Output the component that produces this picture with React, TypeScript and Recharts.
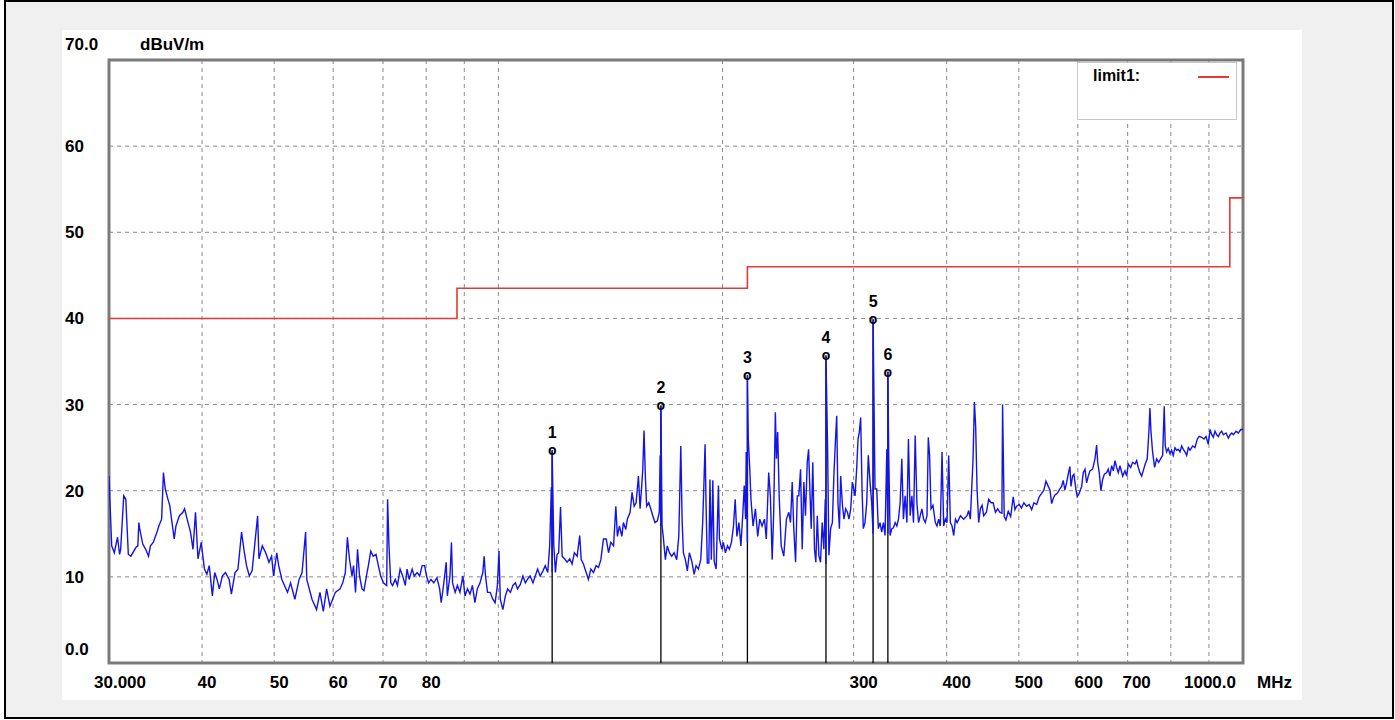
import {
  ComposedChart,
  Line,
  Scatter,
  XAxis,
  YAxis,
  CartesianGrid,
  ReferenceArea,
} from 'recharts'

// sweep readings [MHz, dBuV/m], split by frequency band
const SWEEP_30_61: [number, number][] = [
  [30, 21.7], [30.07, 19.4], [30.25, 13.6], [30.5, 12.8], [30.8, 14.6], [31.0, 12.6], [31.1, 13.2],
  [31.4, 19.4], [31.6, 19.0], [31.85, 12.6], [32.1, 12.4], [32.6, 13.4], [32.8, 13.6], [32.9, 16.3],
  [33.0, 15.5], [33.3, 13.8], [33.6, 13.2], [33.9, 12.4], [34.1, 13.6], [34.4, 14.0], [34.8, 15.2],
  [35.0, 15.9], [35.3, 16.7], [35.5, 22.1], [35.7, 20.2], [36.0, 19.0], [36.2, 18.3], [36.4, 16.7],
  [36.7, 14.4], [36.9, 15.9], [37.3, 17.1], [37.7, 17.5], [37.9, 17.9], [38.2, 16.7], [38.6, 15.2],
  [38.9, 13.2], [39.2, 17.5], [39.5, 12.1], [39.9, 14.0], [40.3, 10.9], [40.6, 10.3], [40.9, 11.3],
  [41.3, 7.8], [41.6, 10.5], [41.9, 9.7], [42.2, 8.6], [42.6, 10.1], [43.0, 10.5], [43.5, 9.7],
  [43.8, 8.0], [44.3, 10.5], [44.7, 10.9], [45.2, 15.2], [45.6, 12.8], [45.9, 11.3], [46.3, 10.1],
  [46.7, 10.7], [47.5, 17.1], [47.7, 12.1], [48.2, 13.6], [48.7, 12.8], [49.2, 11.7], [49.6, 12.4],
  [49.9, 10.1], [50.4, 12.8], [50.7, 11.3], [51.2, 9.7], [52.1, 8.2], [52.6, 9.3], [53.3, 7.4],
  [54.0, 9.7], [54.5, 10.5], [55.1, 15.2], [55.3, 9.7], [56.2, 7.4], [57.0, 6.2], [57.6, 8.2],
  [58.2, 6.0], [58.8, 8.6], [59.4, 6.6], [60.4, 8.2],
]

const SWEEP_61_129: [number, number][] = [
  [61.3, 8.6], [61.8, 9.3], [62.3, 10.5], [62.7, 14.6], [63.1, 12.1], [63.6, 10.1], [63.9, 11.3],
  [64.3, 8.2], [64.7, 13.2], [65.1, 10.1], [65.6, 8.6], [66.0, 8.4], [66.5, 10.1], [66.9, 11.3],
  [67.4, 13.0], [67.9, 12.4], [68.5, 12.6], [69.0, 11.3], [69.5, 10.1], [70.1, 9.3], [70.8, 9.0],
  [71.0, 19.0], [71.3, 13.6], [71.7, 9.3], [72.1, 9.0], [72.7, 9.7], [73.2, 9.0], [73.8, 10.9],
  [74.4, 10.1], [75.0, 9.0], [75.4, 10.9], [75.9, 9.7], [76.6, 10.9], [77.1, 10.1], [77.8, 10.5],
  [78.4, 10.1], [79.0, 11.3], [79.6, 11.3], [80.1, 10.1], [80.6, 9.3], [81.2, 9.7], [81.9, 9.3],
  [82.7, 9.9], [83.4, 8.6], [83.8, 7.0], [84.4, 9.0], [85.1, 11.7], [85.4, 7.8], [86.1, 10.1],
  [86.5, 14.0], [86.8, 9.3], [87.5, 8.2], [88.1, 9.0], [88.8, 8.2], [89.6, 10.1], [90.2, 7.8],
  [90.9, 8.6], [91.6, 8.0], [92.3, 9.0], [93.0, 7.0], [93.7, 8.6], [94.5, 9.3], [95.3, 10.5],
  [95.7, 12.4], [96.1, 10.1], [96.7, 8.2], [97.5, 8.2], [98.3, 7.4], [99.0, 7.0], [99.7, 9.0],
  [100.2, 13.0], [100.6, 7.4], [101.4, 6.2], [102.2, 7.8], [102.9, 8.6], [103.8, 8.2], [104.6, 9.0],
  [105.4, 9.3], [106.1, 8.6], [107.0, 9.1], [107.9, 10.1], [108.7, 9.3], [109.4, 9.7], [110.3, 10.1],
  [111.3, 9.3], [112.1, 10.1], [112.9, 10.9], [113.8, 10.1], [114.8, 10.7], [115.6, 11.3], [116.5, 10.5],
  [117.2, 13.6], [117.8, 20.4], [118.1, 10.5], [118.1, 24.7], [118.7, 13.6], [119.3, 10.5], [119.9, 12.6],
  [120.5, 12.8], [121.2, 18.1], [121.8, 12.4], [122.7, 12.1], [123.7, 11.7], [124.7, 12.1], [125.6, 11.5],
  [126.5, 12.8], [127.6, 12.4], [128.6, 14.8],
]

const SWEEP_129_246: [number, number][] = [
  [129.2, 12.0], [130.1, 11.5], [131.2, 10.5], [132.1, 9.7], [133.1, 10.9], [134.2, 10.5], [135.3, 11.3],
  [136.3, 11.1], [137.3, 12.0], [138.4, 14.4], [139.6, 14.4], [140.6, 12.8], [141.6, 14.0], [142.8, 13.6],
  [143.8, 18.2], [144.5, 14.7], [145.4, 15.9], [146.5, 14.7], [147.2, 16.3], [148.3, 15.5], [149.0, 16.7],
  [150.3, 17.5], [151.2, 19.8], [152.2, 18.2], [153.1, 18.6], [154.2, 21.7], [155.0, 17.9], [155.8, 20.6],
  [156.3, 22.5], [156.9, 27.0], [157.6, 21.3], [158.2, 18.2], [159.2, 18.6], [160.2, 17.9], [161.2, 17.1],
  [162.3, 16.3], [163.5, 16.5], [164.5, 17.5], [164.9, 24.1], [165.3, 15.9], [165.3, 29.9], [165.9, 15.9],
  [166.5, 14.7], [167.6, 12.0], [168.6, 13.6], [169.7, 12.8], [170.9, 12.4], [172.2, 12.8], [173.6, 12.0],
  [174.7, 14.7], [175.8, 25.2], [176.5, 16.7], [177.2, 12.8], [178.3, 12.0], [179.4, 10.7], [180.5, 12.8],
  [181.9, 11.8], [183.2, 10.3], [184.3, 11.3], [185.6, 10.9], [187.0, 12.0], [188.1, 16.3], [188.9, 21.3],
  [189.5, 25.4], [190.1, 18.2], [190.8, 11.6], [191.7, 11.6], [192.4, 21.3], [193.2, 12.0], [194.1, 21.2],
  [194.9, 11.8], [196.1, 10.9], [197.5, 20.6], [198.1, 14.4], [199.6, 13.2], [200.5, 14.0], [201.8, 12.8],
  [203.1, 13.6], [204.3, 13.2], [205.6, 14.0], [206.9, 15.9], [208.0, 19.0], [209.1, 14.7], [210.4, 16.3],
  [211.7, 13.6], [213.0, 17.5], [213.9, 20.6], [214.8, 16.7], [215.2, 24.5], [216.0, 14.0], [216.0, 33.4],
  [216.6, 26.0], [217.5, 22.9], [218.4, 19.0], [219.8, 15.9], [221.4, 17.9], [223.0, 14.7], [224.4, 16.7],
  [226.0, 15.9], [227.7, 16.7], [229.0, 14.4], [230.7, 22.1], [231.9, 19.4], [233.2, 12.0], [234.3, 17.5],
  [235.5, 29.1], [236.3, 23.7], [237.2, 26.8], [238.3, 19.4], [239.8, 13.6], [241.7, 12.4], [243.7, 16.7],
  [245.5, 17.5],
]

const SWEEP_246_472: [number, number][] = [
  [246.8, 16.3], [248.1, 21.0], [249.3, 15.6], [250.7, 11.7], [252.0, 19.4], [253.2, 19.4], [254.6, 22.5],
  [255.9, 13.2], [257.2, 21.0], [258.5, 17.1], [259.9, 23.3], [261.0, 24.8], [262.0, 20.2], [263.1, 15.6],
  [264.4, 23.3], [265.8, 13.2], [266.9, 11.7], [268.1, 17.1], [269.4, 12.5], [270.8, 11.7], [272.2, 16.3],
  [273.6, 13.2], [274.8, 19.0], [275.4, 11.5], [275.4, 35.7], [276.8, 24.8], [277.9, 12.5], [279.4, 15.6],
  [280.9, 16.3], [282.2, 21.7], [283.5, 25.6], [284.7, 28.7], [285.8, 18.6], [287.1, 15.6], [288.2, 21.7],
  [289.8, 18.3], [291.2, 16.7], [292.7, 17.9], [294.3, 17.5], [295.7, 16.7], [297.3, 17.9], [298.8, 21.0],
  [301.3, 19.4], [302.8, 22.5], [304.1, 26.0], [305.3, 26.8], [306.6, 28.5], [307.9, 20.2], [309.1, 15.6],
  [310.7, 16.3], [312.4, 18.6], [313.9, 24.1], [315.6, 21.0], [317.2, 18.6], [318.6, 15.0], [318.6, 39.9],
  [319.5, 30.3], [320.5, 20.2], [322.2, 20.2], [323.8, 15.6], [325.5, 16.3], [327.2, 15.2], [328.9, 16.3],
  [330.6, 14.8], [332.4, 24.8], [333.5, 15.0], [333.5, 33.8], [334.4, 24.1], [335.8, 14.8], [337.6, 15.6],
  [339.3, 15.7], [341.1, 16.3], [342.9, 15.9], [344.6, 16.7], [346.4, 18.6], [348.2, 23.7], [349.9, 16.7],
  [351.8, 19.4], [353.7, 16.3], [355.4, 26.0], [357.3, 17.1], [359.2, 19.4], [361.0, 16.3], [362.9, 26.4],
  [364.8, 18.6], [366.7, 16.3], [368.6, 17.1], [370.5, 17.9], [372.4, 16.7], [374.4, 16.3], [376.4, 17.1],
  [377.9, 26.2], [379.4, 24.1], [381.1, 17.9], [383.4, 18.3], [386.2, 16.3], [388.2, 15.9], [390.2, 16.7],
  [392.2, 15.9], [394.3, 24.5], [396.3, 15.9], [398.4, 16.7], [400.4, 16.3], [402.5, 24.1], [404.6, 16.3],
  [406.7, 15.9], [408.8, 14.8], [411.0, 16.7], [413.2, 16.3], [417.4, 17.1], [421.6, 16.7], [426.0, 17.1],
  [428.2, 17.7], [430.4, 16.7], [434.0, 23.7], [435.8, 30.3], [437.5, 27.5], [439.4, 20.2], [441.6, 16.3],
  [443.9, 17.9], [446.3, 18.3], [448.5, 17.1], [452.3, 17.5], [455.5, 19.0], [458.9, 18.6], [461.8, 18.6],
  [465.1, 17.5], [468.4, 17.9], [471.4, 17.5],
]

const SWEEP_472_1000: [number, number][] = [
  [474.5, 17.4], [475.5, 30.0], [476.4, 25.0], [477.9, 17.0], [480.4, 16.6], [483.9, 17.6], [487.5, 17.0],
  [491.4, 19.3], [494.0, 17.8], [496.6, 18.2], [500.6, 18.4], [504.2, 18.0], [507.8, 18.6], [512.1, 18.2],
  [516.2, 18.4], [520.2, 17.8], [523.9, 18.6], [528.3, 18.4], [532.5, 19.3], [536.5, 19.7], [540.3, 20.1],
  [543.7, 21.1], [547.6, 20.5], [550.5, 20.1], [553.4, 18.5], [556.1, 19.1], [559.1, 19.5], [563.1, 19.7],
  [566.6, 20.1], [570.7, 20.5], [573.5, 21.2], [576.5, 20.1], [579.6, 20.9], [582.4, 21.9], [585.5, 22.8],
  [587.4, 20.5], [590.4, 21.7], [592.9, 21.9], [596.6, 20.1], [599.0, 19.3], [602.7, 19.7], [607.2, 20.5],
  [610.2, 22.1], [613.5, 22.5], [616.6, 20.9], [619.7, 21.7], [623.0, 22.3], [628.2, 22.5], [632.7, 23.7],
  [636.0, 25.3], [638.0, 23.3], [641.1, 22.1], [644.5, 20.0], [647.9, 21.3], [651.2, 21.9], [656.0, 22.1],
  [659.2, 22.5], [662.7, 21.7], [666.2, 22.9], [669.6, 22.3], [673.1, 23.5], [676.6, 22.7], [680.0, 22.1],
  [683.6, 22.9], [689.3, 21.7], [694.2, 22.3], [697.9, 21.7], [701.3, 23.1], [706.5, 22.7], [710.9, 23.3],
  [716.0, 23.1], [719.8, 23.5], [723.4, 22.7], [727.1, 22.1], [731.0, 21.7], [734.5, 22.3], [739.1, 23.1],
  [743.7, 23.7], [747.6, 26.9], [749.9, 29.6], [752.3, 26.9], [756.1, 24.5], [760.8, 22.7], [765.6, 23.7],
  [770.3, 23.3], [775.1, 23.7], [780.0, 24.1], [783.8, 29.8], [786.3, 25.2], [789.6, 24.5], [793.6, 24.9],
  [797.8, 24.3], [802.0, 24.7], [805.9, 24.1], [810.2, 25.0], [814.5, 24.7], [818.6, 24.8], [823.0, 24.5],
  [827.3, 25.2], [831.4, 24.8], [835.8, 24.5], [840.2, 24.1], [844.5, 25.0], [849.0, 24.7], [855.9, 25.2],
  [862.0, 25.0], [868.2, 26.0], [873.6, 26.3], [880.1, 26.2], [886.4, 26.0], [891.9, 26.3], [898.3, 25.4],
  [903.1, 27.1], [907.9, 26.5], [912.3, 26.2], [917.2, 26.9], [922.0, 26.5], [926.7, 26.3], [931.4, 26.7],
  [936.4, 26.9], [941.1, 26.5], [949.0, 26.7], [955.8, 26.1], [960.9, 26.5], [965.8, 26.7], [970.7, 26.5],
  [978.8, 26.9], [985.8, 26.7], [993.1, 27.1], [1000, 27.1],
]

// limit1 step line
const LIMIT_MHZ = [30, 88, 88, 216, 216, 960, 960, 1000]
const LIMIT_DB = [40, 40, 43.5, 43.5, 46, 46, 54, 54]

// markers 1..6
const MARKER_MHZ = [118.1, 165.3, 216.0, 275.4, 318.6, 333.5]
const MARKER_DB = [24.7, 29.9, 33.4, 35.7, 39.9, 33.8]

const GRID_MHZ = [30, 40, 50, 60, 70, 80, 90, 100, 200, 300, 400, 500, 600, 700, 800, 900, 1000]
const Y_TICKS = [0, 10, 20, 30, 40, 50, 60, 70]
const X_LABELS: Record<number, string> = {
  30: '30.000', 40: '40', 50: '50', 60: '60', 70: '70', 80: '80',
  300: '300', 400: '400', 500: '500', 600: '600', 700: '700', 1000: '1000.0',
}
const X_LABEL_DX: Record<number, number> = { 30: 11, 300: 10, 400: 10, 500: 10, 600: 11, 700: 9, 1000: -33 }

const FONT = '"Liberation Sans", Arial, sans-serif'

const trace = [...SWEEP_30_61, ...SWEEP_61_129, ...SWEEP_129_246, ...SWEEP_246_472, ...SWEEP_472_1000].map(
  ([f, v]) => ({ f, v }),
)
const limit = LIMIT_MHZ.map((f, i) => ({ f, v: LIMIT_DB[i] }))
const markers = MARKER_MHZ.map((f, i) => ({ f, v: MARKER_DB[i], n: i + 1 }))

function XTick({ x, y, payload }: any) {
  const label = X_LABELS[payload.value]
  if (!label) return null
  const dx = X_LABEL_DX[payload.value] ?? 5
  return (
    <g>
      <text x={x + dx} y={y + 25} textAnchor="middle" fontFamily={FONT} fontWeight="bold" fontSize={17} fill="#000">
        {label}
      </text>
      {payload.value === 1000 && (
        <text x={x + 14} y={y + 25} fontFamily={FONT} fontWeight="bold" fontSize={17} fill="#000">
          MHz
        </text>
      )}
    </g>
  )
}

function YTick({ x, y, payload }: any) {
  const v = payload.value
  const label = v === 70 ? '70.0' : v === 0 ? '0.0' : String(v)
  const dy = v === 70 ? -10 : v === 0 ? -8 : 6
  return (
    <g>
      <text x={x - 44} y={y + dy} fontFamily={FONT} fontWeight="bold" fontSize={17} fill="#000">
        {label}
      </text>
      {v === 70 && (
        <text x={x + 31} y={y + dy} fontFamily={FONT} fontWeight="bold" fontSize={17} fill="#000">
          dBuV/m
        </text>
      )}
    </g>
  )
}

function MarkerLabel({ cx, cy, payload }: any) {
  return (
    <g>
      <text x={cx} y={cy - 12} textAnchor="middle" fontFamily={FONT} fontWeight="bold" fontSize={16} fill="#000">
        {payload.n}
      </text>
      <text x={cx} y={cy + 5} textAnchor="middle" fontFamily={FONT} fontWeight="bold" fontSize={14} fill="#000">
        o
      </text>
    </g>
  )
}

export default function App() {
  return (
    <div style={{ position: 'absolute', left: 0, top: 0, width: 1395, height: 720, background: '#fff' }}>
      <div
        style={{
          position: 'absolute', left: 4, top: 0, width: 1386, height: 715,
          border: '2px solid #000', background: '#f0f0f0',
        }}
      />
      <div style={{ position: 'absolute', left: 62, top: 30, width: 1240, height: 670, background: '#fff' }} />
      <div style={{ position: 'absolute', left: 0, top: 0 }}>
        <ComposedChart width={1395} height={720} margin={{ top: 60, right: 152, bottom: 17, left: 60 }}>
          <CartesianGrid stroke="#8a8a8a" strokeDasharray="4 4" />
          <XAxis
            type="number"
            dataKey="f"
            scale="log"
            domain={[30, 1000]}
            ticks={GRID_MHZ}
            interval={0}
            allowDataOverflow
            height={40}
            tickLine={false}
            axisLine={false}
            tickSize={0}
            tickMargin={0}
            tick={<XTick />}
          />
          <YAxis
            type="number"
            dataKey="v"
            domain={[0, 70]}
            ticks={Y_TICKS}
            interval={0}
            width={49}
            tickLine={false}
            axisLine={false}
            tickSize={0}
            tickMargin={0}
            tick={<YTick />}
          />
          {markers.map((m) => (
            <Line
              key={m.n}
              data={[{ f: m.f, v: 0 }, { f: m.f, v: m.v }]}
              dataKey="v"
              stroke="#000"
              strokeWidth={1.3}
              dot={false}
              isAnimationActive={false}
            />
          ))}
          <Line data={trace} dataKey="v" type="linear" stroke="#1414e6" strokeWidth={1.4} dot={false} isAnimationActive={false} />
          <Line data={limit} dataKey="v" type="linear" stroke="#e53935" strokeWidth={1.6} dot={false} isAnimationActive={false} />
          <Scatter data={markers} dataKey="v" shape={<MarkerLabel />} isAnimationActive={false} />
          <ReferenceArea x1={30} x2={1000} y1={0} y2={70} fill="none" stroke="#7a7a7a" strokeWidth={3} ifOverflow="visible" />
        </ComposedChart>
      </div>
      <div
        style={{
          position: 'absolute', left: 1077, top: 62, width: 158, height: 56,
          border: '1px solid #c8c8c8', background: '#fff',
        }}
      >
        <span
          style={{
            position: 'absolute', left: 15, top: 4, fontFamily: FONT, fontWeight: 'bold', fontSize: 16, color: '#000',
          }}
        >
          limit1:
        </span>
        <div style={{ position: 'absolute', left: 120, top: 13, width: 31, height: 2, background: '#e53935' }} />
      </div>
    </div>
  )
}
